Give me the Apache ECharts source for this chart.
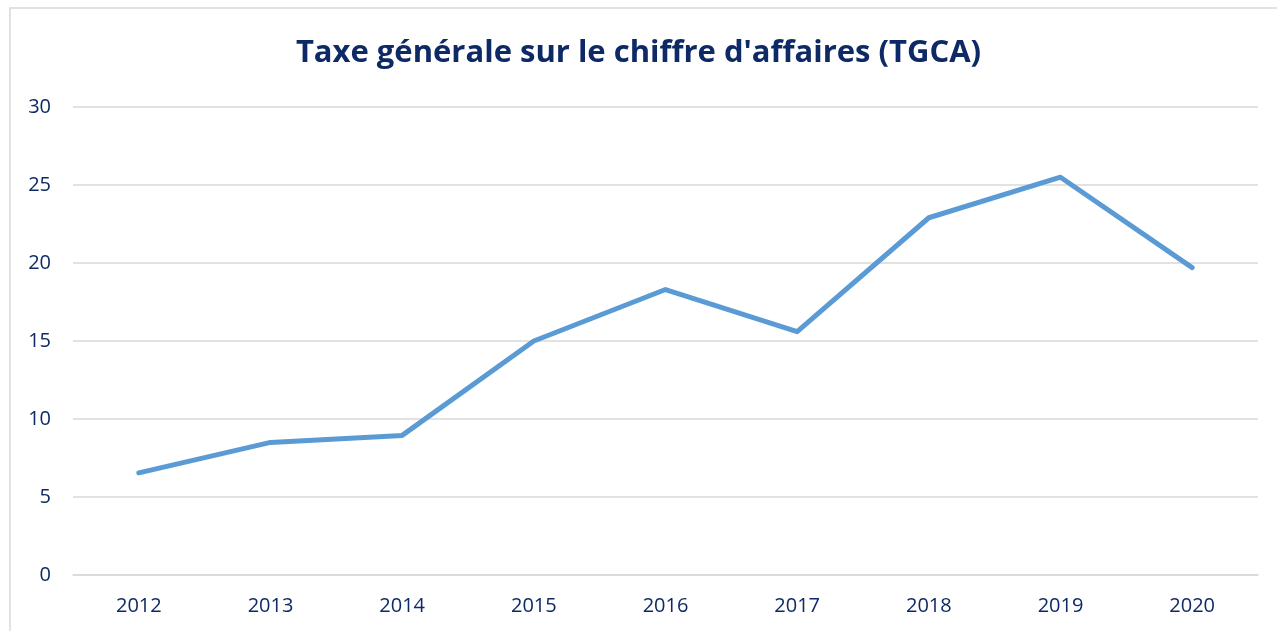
<!DOCTYPE html>
<html>
<head>
<meta charset="utf-8">
<script src="https://cdn.jsdelivr.net/npm/echarts@6/dist/echarts.min.js"></script>
<style>
  html, body { margin: 0; padding: 0; background: #fff; }
  #chart { width: 1277px; height: 631px; }
</style>
</head>
<body>
<div id="chart"></div>
<script>
  // années et montants (TGCA)
  const years = ['2012', '2013', '2014', '2015', '2016', '2017', '2018', '2019', '2020'];
  const tgca = [6.55, 8.5, 8.95, 15.0, 18.3, 15.6, 22.9, 25.5, 19.7];

  const navy = '#0e2a66';
  const chart = echarts.init(document.getElementById('chart'));
  chart.setOption({
    animation: false,
    title: {
      text: "Taxe générale sur le chiffre d'affaires (TGCA)",
      left: 'center',
      top: 33,
      textStyle: {
        fontFamily: 'Open Sans',
        fontWeight: 'bold',
        fontSize: 31,
        color: navy
      }
    },
    graphic: [{
      type: 'rect',
      shape: { x: 10, y: 8, width: 1400, height: 800 },
      style: { fill: 'none', stroke: '#d9d9d9', lineWidth: 1.5 },
      silent: true
    }],
    grid: { left: 73, right: 19, top: 107, bottom: 56 },
    xAxis: {
      type: 'category',
      data: years,
      boundaryGap: true,
      axisLine: { show: true, lineStyle: { color: '#d9d9d9', width: 1.5 } },
      axisTick: { show: false },
      axisLabel: {
        margin: 21,
        fontFamily: 'Open Sans',
        fontSize: 20,
        color: navy
      }
    },
    yAxis: {
      type: 'value',
      min: 0,
      max: 30,
      interval: 5,
      axisLine: { show: false },
      axisTick: { show: false },
      splitLine: { lineStyle: { color: '#d9d9d9', width: 1.5 } },
      axisLabel: {
        margin: 22,
        fontFamily: 'Open Sans',
        fontSize: 20,
        color: navy
      }
    },
    series: [{
      type: 'line',
      data: tgca,
      symbol: 'none',
      lineStyle: { color: '#5b9bd5', width: 5, cap: 'round', join: 'round' }
    }]
  });
</script>
</body>
</html>
